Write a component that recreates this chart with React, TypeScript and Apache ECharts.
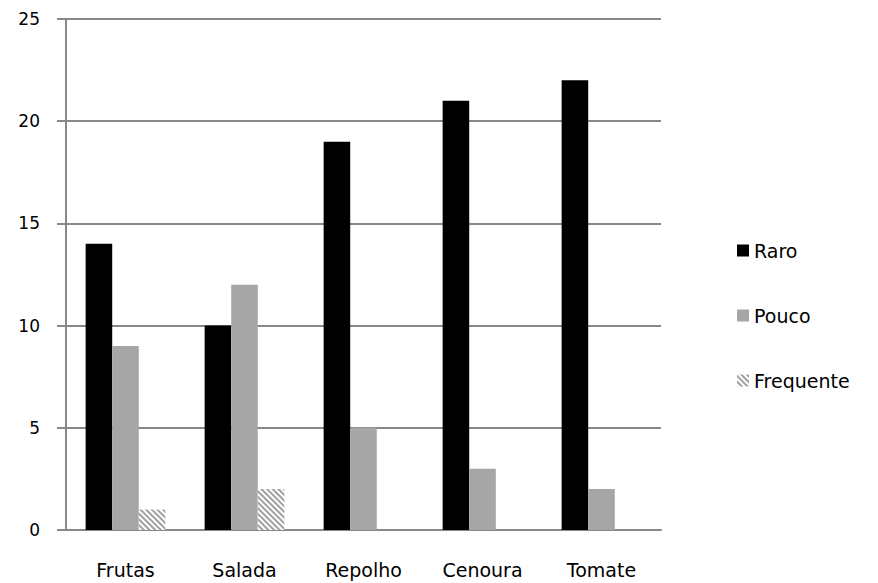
import React, { useEffect, useRef } from "react";
import * as echarts from "echarts";

const categories = ["Frutas", "Salada", "Repolho", "Cenoura", "Tomate"];
const raro = [14, 10, 19, 21, 22];
const pouco = [9, 12, 5, 3, 2];
const frequente = [1, 2, 0, 0, 0];

export default function App() {
  const ref = useRef<HTMLDivElement>(null);
  useEffect(() => {
    const chart = echarts.init(ref.current!, null, { renderer: "svg" });
    const font = "DejaVu Sans";
    chart.setOption({
      animation: false,
      backgroundColor: "#fff",
      textStyle: { fontFamily: font },
      grid: { left: 66, right: 217, top: 19, bottom: 53 },
      legend: {
        orient: "vertical",
        left: 732,
        top: 236,
        itemWidth: 12,
        itemHeight: 12,
        itemGap: 46,
        icon: "rect",
        textStyle: { fontFamily: font, fontSize: 19, color: "#000" },
        data: ["Raro", "Pouco", "Frequente"],
      },
      xAxis: {
        type: "category",
        data: categories,
        axisLine: { lineStyle: { color: "#888", width: 2 } },
        axisTick: { length: 7, lineStyle: { color: "#888", width: 2 } },
        axisLabel: { margin: 30, fontSize: 19, color: "#000", fontFamily: font },
      },
      yAxis: {
        type: "value",
        min: 0,
        max: 25,
        interval: 5,
        axisLine: { show: true, lineStyle: { color: "#888", width: 2 } },
        axisTick: { show: true, length: 9, inside: false, lineStyle: { color: "#888", width: 2 } },
        splitLine: { lineStyle: { color: "#888", width: 2 } },
        axisLabel: { margin: 26, fontSize: 17, color: "#000", fontFamily: font },
      },
      series: [
        {
          name: "Raro",
          type: "bar",
          data: raro,
          barGap: "0%",
          barCategoryGap: "33%",
          itemStyle: { color: "#000" },
        },
        {
          name: "Pouco",
          type: "bar",
          data: pouco,
          barGap: "0%",
          barCategoryGap: "33%",
          itemStyle: { color: "#a6a6a6" },
        },
        {
          name: "Frequente",
          type: "bar",
          data: frequente,
          barGap: "0%",
          barCategoryGap: "33%",
          itemStyle: {
            color: "#ffffff",
            decal: {
              symbol: "rect",
              symbolSize: 1,
              dashArrayX: [1, 0],
              dashArrayY: [2, 2],
              rotation: Math.PI / 4,
              color: "#a0a0a0",
              backgroundColor: "#fff",
            },
          },
        },
      ],
    });
    return () => chart.dispose();
  }, []);
  return <div ref={ref} style={{ width: 878, height: 583, position: "absolute", left: 0, top: 0 }} />;
}
